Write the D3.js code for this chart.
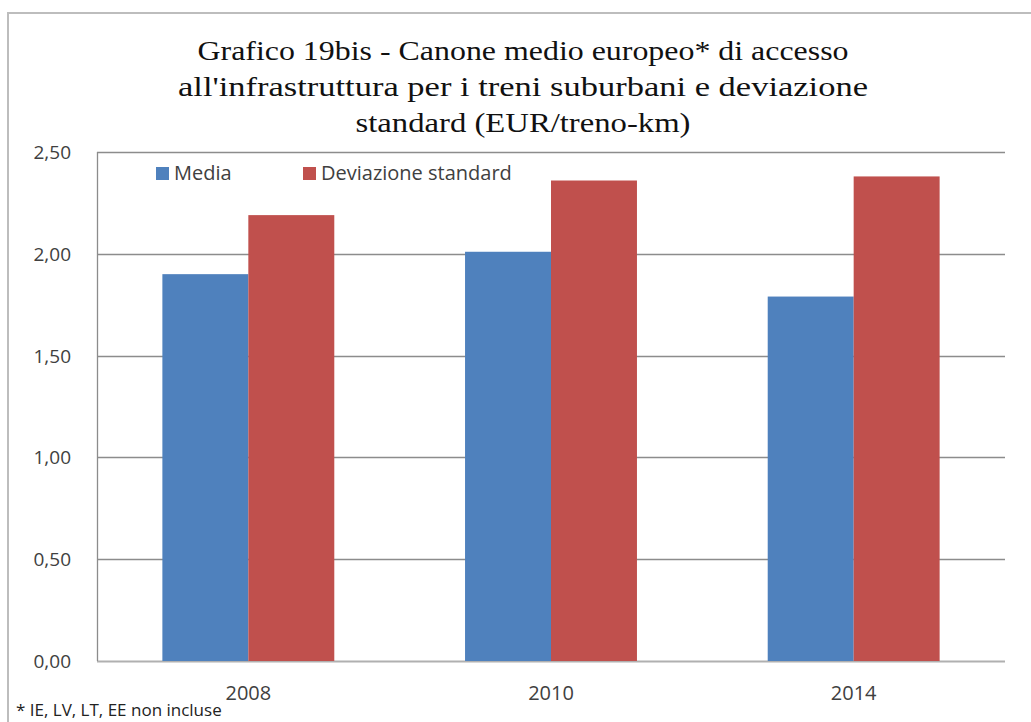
<!DOCTYPE html>
<html>
<head>
<meta charset="utf-8">
<script src="https://cdn.jsdelivr.net/npm/d3@7/dist/d3.min.js"></script>
<style>
  body { margin:0; background:#fff; }
  svg { display:block; }
</style>
</head>
<body>
<script>
// data
var years=["2008","2010","2014"];
var media=[1.90,2.01,1.79];
var devStd=[2.19,2.36,2.38];
var seriesNames=["Media","Deviazione standard"];
var seriesColors=["#4F81BD","#C0504D"];
var yTicks=[0,0.5,1,1.5,2,2.5];
var titleLines=["Grafico 19bis - Canone medio europeo* di accesso",
                "all'infrastruttura per i treni suburbani e deviazione",
                "standard (EUR/treno-km)"];
var footnote="* IE, LV, LT, EE non incluse";

var W=1031, H=722;
var m={left:97, right:1005, top:152, bottom:661};
var sans="Open Sans, Liberation Sans, sans-serif";

var svg=d3.select("body").append("svg").attr("width",W).attr("height",H);

// outer chart frame
svg.append("rect")
   .attr("x",8).attr("y",13).attr("width",W+10).attr("height",H+10)
   .attr("fill","none").attr("stroke","#bdbdbd").attr("stroke-width",2);

// title
var titleW=[651,690,335];
svg.selectAll("text.title").data(titleLines).enter().append("text")
   .attr("class","title")
   .attr("x",523)
   .attr("y",function(d,i){ return 60+i*36; })
   .attr("text-anchor","middle")
   .attr("font-family","Liberation Serif, Times New Roman, serif")
   .attr("font-size",28)
   .attr("fill","#111")
   .attr("textLength",function(d,i){ return titleW[i]; })
   .attr("lengthAdjust","spacingAndGlyphs")
   .text(function(d){ return d; });

var x0=d3.scaleBand().domain(years).range([m.left,m.right]).paddingInner(0.432).paddingOuter(0.216);
var x1=d3.scaleBand().domain([0,1]).range([0,x0.bandwidth()]);
var y=d3.scaleLinear().domain([0,2.5]).range([m.bottom,m.top]);

// gridlines
svg.append("g").selectAll("line").data(yTicks).enter().append("line")
   .attr("x1",m.left).attr("x2",m.right)
   .attr("y1",function(d){ return Math.round(y(d))+0.5; })
   .attr("y2",function(d){ return Math.round(y(d))+0.5; })
   .attr("stroke",function(d){ return d===0 ? "#b0b0b0" : "#8c8c8c"; })
   .attr("stroke-width",function(d){ return d===0 ? 2 : 1.3; });

// left axis line
svg.append("line")
   .attr("x1",m.left+0.5).attr("x2",m.left+0.5)
   .attr("y1",m.top).attr("y2",m.bottom)
   .attr("stroke","#8c8c8c").attr("stroke-width",1.3);

// y tick labels
var fmt=function(v){ return d3.format(".2f")(v).replace(".",","); };
svg.append("g").selectAll("text").data(yTicks).enter().append("text")
   .attr("x",71)
   .attr("y",function(d){ return y(d)+7; })
   .attr("text-anchor","end")
   .attr("font-family",sans)
   .attr("font-size",19)
   .attr("fill","#404040")
   .text(fmt);

// bars
var groups=svg.append("g").selectAll("g").data(years).enter().append("g")
   .attr("transform",function(d){ return "translate("+x0(d)+",0)"; });
groups.selectAll("rect")
   .data(function(d,i){ return [media[i],devStd[i]]; })
   .enter().append("rect")
   .attr("x",function(d,j){ return x1(j); })
   .attr("width",x1.bandwidth())
   .attr("y",function(d){ return y(d); })
   .attr("height",function(d){ return m.bottom-y(d); })
   .attr("fill",function(d,j){ return seriesColors[j]; });

// x labels
svg.append("g").selectAll("text").data(years).enter().append("text")
   .attr("x",function(d){ return x0(d)+x0.bandwidth()/2; })
   .attr("y",700)
   .attr("text-anchor","middle")
   .attr("font-family",sans)
   .attr("font-size",20)
   .attr("fill","#404040")
   .text(function(d){ return d; });

// legend
var legX=[156,303];
var leg=svg.append("g").selectAll("g").data(seriesNames).enter().append("g")
   .attr("transform",function(d,i){ return "translate("+legX[i]+",167)"; });
leg.append("rect").attr("width",13).attr("height",13)
   .attr("fill",function(d,i){ return seriesColors[i]; });
leg.append("text").attr("x",18).attr("y",13)
   .attr("font-family",sans)
   .attr("font-size",20)
   .attr("fill","#404040")
   .text(function(d){ return d; });

// footnote
svg.append("text")
   .attr("x",16).attr("y",716)
   .attr("font-family",sans)
   .attr("font-size",17)
   .attr("fill","#222")
   .text(footnote);
</script>
</body>
</html>
